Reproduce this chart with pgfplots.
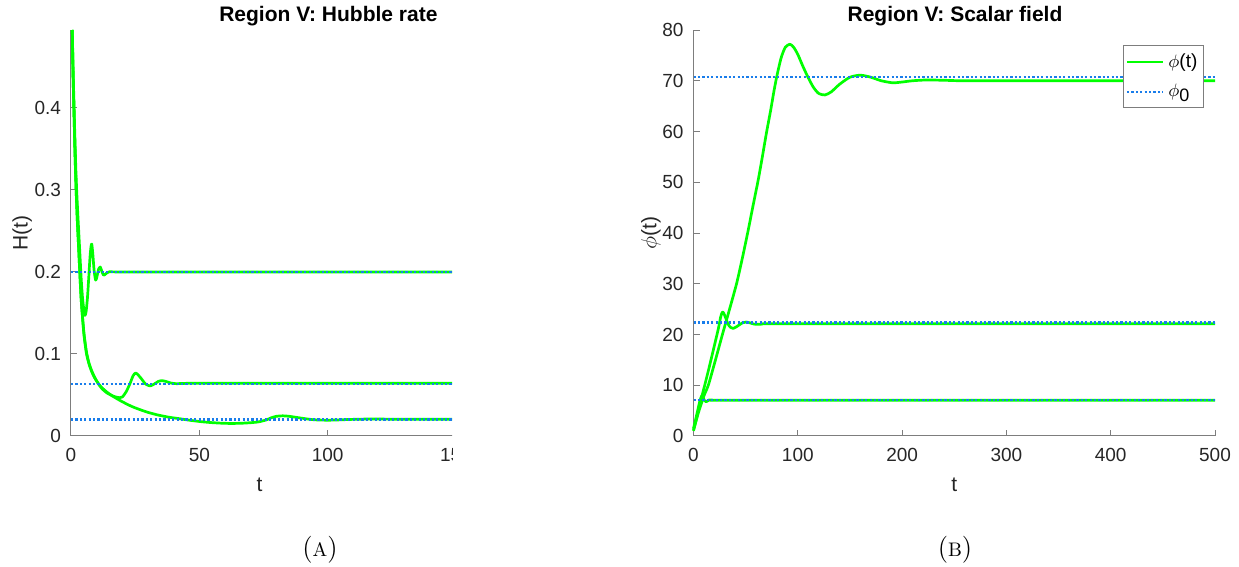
\documentclass[border=0pt]{standalone}
\usepackage{fontspec}
\newfontfamily\arial{Liberation Sans}
\usepackage{pgfplots}
\pgfplotsset{compat=1.18}
\definecolor{mgreen}{RGB}{0,255,0}
\definecolor{mblue}{RGB}{25,125,235}
\definecolor{axgray}{RGB}{125,125,125}
\definecolor{tickcol}{RGB}{38,38,38}
\tikzset{
 lab/.style={font=\arial\fontsize{10.5}{12}\selectfont, text=tickcol},
 ttl/.style={font=\arial\bfseries\fontsize{10.5}{12}\selectfont, anchor=base},
}
\pgfplotsset{
 mstyle/.style={
  scale only axis, anchor=south west,
  axis x line*=bottom, axis y line*=left,
  axis line style={draw=axgray, line width=0.5pt, -},
  every outer x axis line/.append style={-},
  every outer y axis line/.append style={-},
  tick style={draw=axgray, line width=0.5pt},
  major tick length=3pt,
  tick align=inside,
  tick label style={font=\arial\fontsize{9.5}{11}\selectfont, text=tickcol},
  /pgf/number format/assume math mode=true,
  xticklabel style={yshift=-2.5pt},
  yticklabel style={xshift=-1.5pt},
  clip=false,
 },
 greenline/.style={color=mgreen, line width=1.35pt, line join=round, smooth, tension=0.4},
 dotline/.style={color=mblue, line width=1.25pt, dash pattern=on 1.1pt off 1.1pt},
}
\begin{document}
\begin{tikzpicture}
\path[use as bounding box] (0,0) rectangle (619.5pt,283.5pt);
\begin{scope}
\clip (0,0) rectangle (226pt,283.5pt);
\begin{axis}[mstyle, at={(35.5pt,65.5pt)}, width=192.5pt, height=203pt,
  xmin=0, xmax=150, ymin=0, ymax=0.495,
  xtick={0,50,100,150}, ytick={0,0.1,0.2,0.3,0.4},
  yticklabel style={/pgf/number format/fixed}]
\addplot[greenline] coordinates {
(0.5,0.495) (0.8,0.45) (1.2,0.40) (1.6,0.355) (2.0,0.315) (2.5,0.28) (3.0,0.25) (3.5,0.22) (4.0,0.19) (4.5,0.168) (5.0,0.154) (5.45,0.147) (5.9,0.152) (6.4,0.168) (6.9,0.192) (7.4,0.218) (7.8,0.231) (8.1,0.234) (8.5,0.222) (9.0,0.202) (9.6,0.190) (10.1,0.194) (10.7,0.203) (11.4,0.206) (12.1,0.200) (12.7,0.196) (13.3,0.197) (14.0,0.199) (15,0.2002) (20,0.2) (60,0.2) (150,0.2)};
\addplot[greenline] coordinates {
(0.5,0.495) (0.8,0.44) (1.2,0.39) (1.6,0.34) (2.0,0.30) (2.5,0.26) (3.0,0.228) (3.5,0.195) (4.0,0.165) (5.0,0.125) (6.0,0.101) (7.0,0.088) (8.0,0.079) (9.0,0.072) (10,0.067) (11,0.062) (12,0.058) (13,0.055) (14,0.0525) (15.5,0.050) (17,0.048) (18.8,0.0467) (20,0.0475) (21.5,0.054) (23,0.064) (24.2,0.0735) (25.2,0.0768) (26.3,0.074) (27.5,0.0695) (29,0.0635) (30.8,0.061) (32.5,0.0635) (34,0.0665) (35.4,0.0675) (37,0.0665) (39,0.0645) (41,0.0638) (44,0.0641) (50,0.0643) (100,0.0643) (150,0.0643)};
\addplot[greenline] coordinates {
(0.5,0.495) (0.8,0.44) (1.2,0.39) (1.6,0.34) (2.0,0.30) (2.5,0.26) (3.0,0.228) (3.5,0.195) (4.0,0.165) (5.0,0.127) (6.0,0.103) (7.0,0.089) (8.0,0.080) (9.0,0.073) (10,0.067) (11,0.0625) (12,0.059) (14,0.0535) (16,0.049) (19,0.0435) (22,0.0385) (24.3,0.0352) (27,0.032) (30,0.0288) (34,0.0255) (38,0.023) (42,0.0212) (46,0.0193) (50,0.0177) (54,0.0165) (58,0.0157) (62,0.0153) (66,0.0155) (70,0.0162) (73,0.0172) (76,0.0195) (78,0.0222) (80,0.024) (82.5,0.0246) (85,0.024) (88,0.0226) (91,0.0212) (94,0.020) (97,0.0194) (101,0.0193) (105,0.0197) (110,0.0203) (116,0.0207) (122,0.0206) (130,0.0204) (150,0.0204)};
\addplot[dotline] coordinates {(0,0.2) (150,0.2)};
\addplot[dotline] coordinates {(0,0.0632) (150,0.0632)};
\addplot[dotline] coordinates {(0,0.0203) (150,0.0203)};
\node[lab, rotate=90] at (axis description cs:-0.127,0.5) {H(t)};
\node[lab] at (axis description cs:0.49,-0.121) {t};
\end{axis}
\node[ttl] at (164.2pt,272.6pt) {Region V: Hubble rate};
\end{scope}
\begin{axis}[mstyle, at={(346.75pt,65.5pt)}, width=260.75pt, height=203pt,
  xmin=0, xmax=500, ymin=0, ymax=80,
  xtick={0,100,...,500}, ytick={0,10,...,80},
  legend style={at={(axis description cs:0.824,0.963)}, anchor=north west, draw=axgray, fill=white, line width=0.5pt, font=\arial\fontsize{9.5}{11}\selectfont, inner xsep=1pt, inner ysep=2pt, row sep=3pt},
  legend cell align=left,
  legend image code/.code={\draw[#1] (0pt,0pt) -- (18pt,0pt);}]
\addplot[greenline] coordinates {
(0,1.2) (5,4.8) (10,7.9) (14.2,10.0) (20,14.2) (28,20.2) (35,25.3) (41.4,30.1) (47,35.2) (52.5,40.6) (57,45.3) (62,50.4) (66,55) (70,59.8) (74,64.2) (77,67.8) (80,71) (84,74.5) (88,76.6) (92.4,77.2) (96,76.6) (100,75.2) (105,72.8) (110,70.6) (115,68.7) (120,67.5) (126,67.2) (132,67.8) (140,69.3) (150,70.7) (160,71.1) (170,70.7) (180,70.0) (191,69.6) (200,69.75) (210,70.0) (223,70.15) (240,70.1) (260,70.0) (350,70.0) (500,70.0)};
\addlegendentry{$\phi$(t)}
\addplot[greenline, forget plot] coordinates {
(0,1.0) (3,3.5) (6,6.2) (11,10.2) (15,13.5) (20,17.8) (24,21.3) (26,23.4) (27.6,24.4) (29,24.2) (31,23.2) (33,22.1) (35.5,21.4) (38,21.2) (41,21.5) (44,21.9) (47,22.3) (50.3,22.45) (54,22.3) (58,22.05) (61,22.0) (66,22.05) (75,22.13) (200,22.13) (500,22.13)};
\addplot[greenline, forget plot] coordinates {
(0,1.5) (2,3.2) (4,5.0) (6,6.8) (7.8,7.9) (9,7.7) (10.5,7.0) (12,6.75) (13.5,6.9) (15,7.1) (18,7.08) (50,7.05) (500,7.05)};
\addplot[dotline] coordinates {(0,70.75) (500,70.75)};
\addlegendentry{$\phi$\raisebox{-0.45ex}{\fontsize{9}{9}\selectfont 0}}
\addplot[dotline, forget plot] coordinates {(0,22.36) (500,22.36)};
\addplot[dotline, forget plot] coordinates {(0,7.07) (500,7.07)};
\node[lab, rotate=90] at (axis description cs:-0.0815,0.5) {$\phi$(t)};
\node[lab] at (axis description cs:0.5,-0.121) {t};
\end{axis}
\node[ttl] at (477.5pt,272.6pt) {Region V: Scalar field};
\node[anchor=base, font=\fontsize{13.5}{15}\selectfont] at (160pt,5pt) {({\fontsize{9.8}{10}\selectfont A})};
\node[anchor=base, font=\fontsize{13.5}{15}\selectfont] at (477.5pt,5pt) {({\fontsize{9.8}{10}\selectfont B})};
\end{tikzpicture}
\end{document}
